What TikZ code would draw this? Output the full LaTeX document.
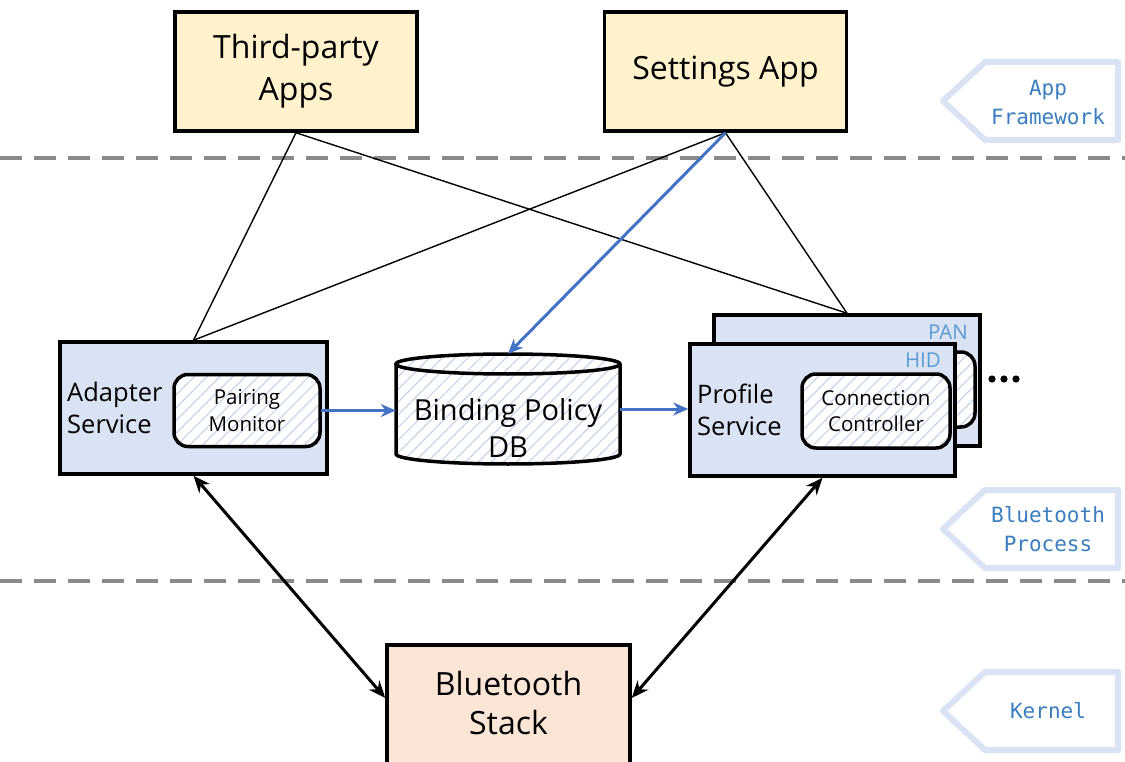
\documentclass[tikz,border=0pt]{standalone}
\usepackage{fontspec}
\setmainfont{Open Sans}
\newfontfamily\monof{DejaVu Sans Mono}
\usetikzlibrary{arrows.meta,patterns.meta,calc}
\definecolor{appyellow}{HTML}{FFF2CC}
\definecolor{procblue}{HTML}{DAE3F3}
\definecolor{kernpeach}{HTML}{FBE5D6}
\definecolor{arrblue}{HTML}{4472C4}
\definecolor{tagblue}{HTML}{5B9BD5}
\definecolor{labblue}{HTML}{3A7EC0}
\definecolor{hatch}{HTML}{C9D5EC}
\definecolor{dashgray}{HTML}{8A8A8A}
\tikzset{
  bigbox/.style={draw=black,line width=3.5pt,fill=appyellow,minimum width=242pt,minimum height=119pt,align=center,font=\fontsize{32}{42}\selectfont,inner sep=0pt},
  procbox/.style={draw=black,line width=3.5pt,fill=procblue,inner sep=0pt},
  hatched/.style={preaction={fill=white},pattern={Lines[angle=45,distance=9pt,line width=1.2pt]},pattern color=hatch},
  innerbox/.style={draw=black,line width=3.5pt,rounded corners=14pt,hatched,minimum width=146pt,minimum height=72pt,align=center,font=\fontsize{20.5}{26.5}\selectfont,inner sep=0pt},
  midtext/.style={align=left,font=\fontsize{25.5}{32}\selectfont,inner sep=0pt},
  tagtext/.style={text=tagblue,font=\fontsize{20.5}{22}\selectfont,inner sep=0pt},
  layerline/.style={draw=dashgray,line width=4pt,dash pattern=on 22pt off 12pt},
  thinline/.style={draw=black,line width=1.4pt},
  bluearrow/.style={draw=arrblue,line width=3pt,-{Stealth[length=15pt,width=13pt]}},
  blkarrow/.style={draw=black,line width=3pt,{Stealth[length=17pt,width=14pt]}-{Stealth[length=17pt,width=14pt]}},
  layertag/.style={draw=procblue,line width=6pt,line join=round},
  layertext/.style={text=labblue,align=center,font=\monof\fontsize{21}{29}\selectfont,inner sep=0pt},
}
\begin{document}
\begin{tikzpicture}[x=1pt,y=-1pt]
\useasboundingbox (0,0) rectangle (1125,762);
\fill[white] (0,0) rectangle (1125,762);

% layer separators
\coordinate (L1a) at (0,158); \coordinate (L1b) at (1125,158);
\coordinate (L2a) at (0,581); \coordinate (L2b) at (1125,581);
\draw[layerline] (L1a) -- (L1b);
\draw[layerline] (L2a) -- (L2b);

% layer tags
\draw[layertag] (943,101) -- (985,62) -- (1118,62) -- (1118,140) -- (985,140) -- cycle;
\node[layertext] (tagA) at (1048,102) {App\\Framework};
\draw[layertag] (943,529) -- (985,490) -- (1118,490) -- (1118,568) -- (985,568) -- cycle;
\node[layertext] (tagB) at (1048,529) {Bluetooth\\Process};
\draw[layertag] (943,711) -- (985,672) -- (1118,672) -- (1118,750) -- (985,750) -- cycle;
\node[layertext] (tagK) at (1048,711) {Kernel};

% apps
\node[bigbox] (TP) at (296,71.5) {Third-party\\Apps};
\node[bigbox] (SA) at (725.5,71.5) {Settings App};

% adapter service
\node[procbox,minimum width=267pt,minimum height=132pt] (AD) at (193.5,408) {};
\node[midtext,anchor=west] (ADt) at (67,408) {Adapter\\Service};
\node[innerbox] (PM) at (247,410.5) {Pairing\\Monitor};

% binding policy DB
\node[minimum width=224pt,minimum height=110pt,inner sep=0pt] (DB) at (508,409) {};
\path[hatched] (396,364) -- (396,454) arc[start angle=180,end angle=0,x radius=112,y radius=10] -- (620,364) arc[start angle=0,end angle=180,x radius=112,y radius=10] -- cycle;
\path[hatched] (508,364) ellipse[x radius=112,y radius=10];
\draw[line width=3.5pt] (396,364) -- (396,454) arc[start angle=180,end angle=0,x radius=112,y radius=10] -- (620,364);
\draw[line width=3.5pt] (508,364) ellipse[x radius=112,y radius=10];
\node[align=center,font=\fontsize{29}{37}\selectfont,inner sep=0pt] (DBt) at (508,428) {Binding Policy\\DB};

% profile services
\node[procbox,minimum width=266pt,minimum height=131pt] (PAN) at (847,380.5) {};
\node[innerbox,minimum width=148pt,minimum height=75pt] (PANin) at (901,389.5) {};
\node[tagtext,anchor=east] (PANt) at (968,332) {PAN};
\node[procbox,minimum width=265pt,minimum height=132pt] (HID) at (822.5,410) {};
\node[tagtext,anchor=east] (HIDt) at (941,360) {HID};
\node[midtext,anchor=west] (PSt) at (697,410) {Profile\\Service};
\node[innerbox,minimum width=148pt,minimum height=74pt] (CC) at (876,411) {Connection\\Controller};
\fill (992,379) circle[radius=3.6] (1004,379) circle[radius=3.6] (1016,379) circle[radius=3.6];

% bluetooth stack
\node[procbox,fill=kernpeach,minimum width=243pt,minimum height=150pt,anchor=north] (BS) at (508.5,643) {};
\node[align=center,font=\fontsize{32}{39}\selectfont,inner sep=0pt] (BSt) at (508.5,703) {Bluetooth\\Stack};

% connectors
\draw[thinline] (TP.south) -- (AD.north);
\draw[thinline] (TP.south) -- (PAN.north);
\draw[thinline] (SA.south) -- (AD.north);
\draw[thinline] (SA.south) -- (PAN.north);
\draw[bluearrow] (SA.south) -- (DB.north);
\draw[bluearrow] (PM.east) -- (PM.east -| DB.west);
\draw[bluearrow] (DB.east) -- (DB.east -| HID.west);
\coordinate (BSl) at ([yshift=-55pt]BS.north west);
\coordinate (BSr) at ([yshift=-55pt]BS.north east);
\draw[blkarrow] (AD.south) -- (BSl);
\draw[blkarrow] (HID.south) -- (BSr);
\end{tikzpicture}
\end{document}
